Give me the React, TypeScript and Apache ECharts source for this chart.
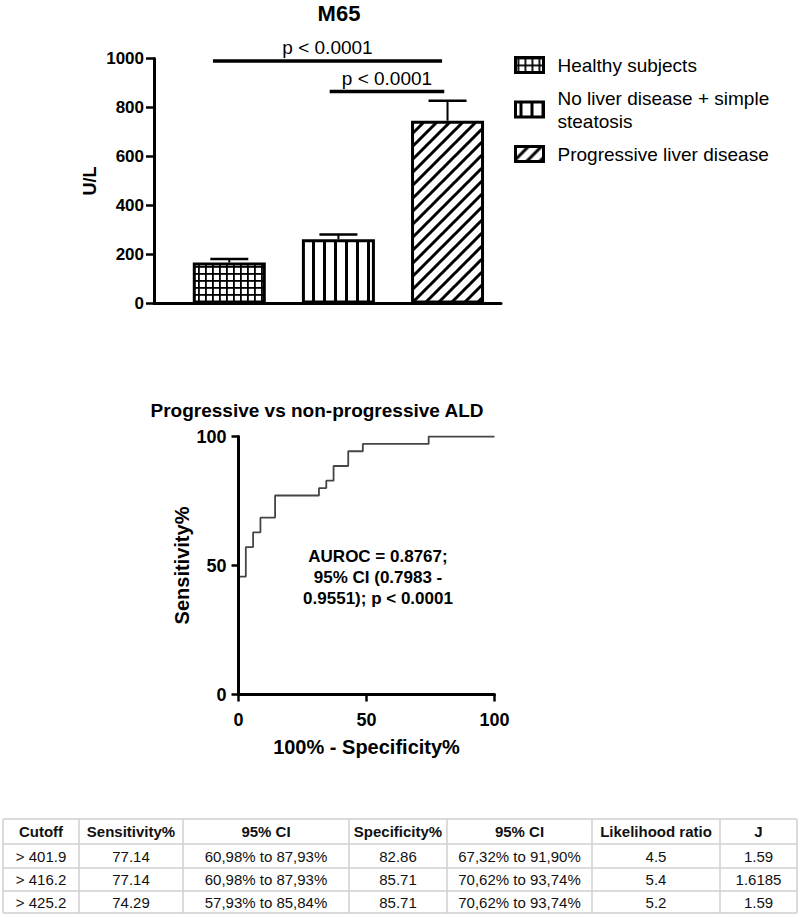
import React, { useEffect, useRef } from 'react';
import * as echarts from 'echarts';

// ---------- Data ----------
const groups = ['Healthy subjects', 'No liver disease + simple steatosis', 'Progressive liver disease'];
const legendLabels = ['Healthy subjects', 'No liver disease + simple\nsteatosis', 'Progressive liver disease'];
const groupMeans = [167, 262, 746];
const groupErrors = [15, 20, 82];
const groupPositions = [0, 1, 2];

const sigStart = [-0.15, 0.92];
const sigEnd = [1.95, 1.97];
const sigLevel = [990, 865];
const sigLabels = ['p < 0.0001', 'p < 0.0001'];

const rocFpr = [0, 0, 2.86, 2.86, 5.71, 5.71, 8.57, 8.57, 14.29, 14.29, 31.43, 31.43, 34.29, 34.29, 37.14, 37.14, 42.86, 42.86, 48.57, 48.57, 74.29, 74.29, 100];
const rocTpr = [0, 45.71, 45.71, 57.14, 57.14, 62.86, 62.86, 68.57, 68.57, 77.14, 77.14, 80, 80, 82.86, 82.86, 88.57, 88.57, 94.29, 94.29, 97.14, 97.14, 100, 100];

const aurocLines = ['AUROC = 0.8767;', '95% CI (0.7983 -', '0.9551); p < 0.0001'];

const tableHeaders = ['Cutoff', 'Sensitivity%', '95% CI', 'Specificity%', '95% CI', 'Likelihood ratio', 'J'];
const cutoffs = ['> 401.9', '> 416.2', '> 425.2'];
const sensitivities = ['77.14', '77.14', '74.29'];
const sensitivityCI = ['60,98% to 87,93%', '60,98% to 87,93%', '57,93% to 85,84%'];
const specificities = ['82.86', '85.71', '85.71'];
const specificityCI = ['67,32% to 91,90%', '70,62% to 93,74%', '70,62% to 93,74%'];
const likelihoodRatios = ['4.5', '5.4', '5.2'];
const youdenJ = ['1.59', '1.6185', '1.59'];

// ---------- Styles ----------
const FONT = "'Liberation Sans', Arial, Helvetica, sans-serif";

const svgUrl = (w: number, h: number, body: string) =>
  'data:image/svg+xml;charset=utf-8,' +
  encodeURIComponent(`<svg xmlns="http://www.w3.org/2000/svg" width="${w}" height="${h}">${body}</svg>`);

const patterns: any[] = [
  {
    image: svgUrl(7, 7, '<rect width="7" height="7" fill="#fff"/><rect x="2" y="0" width="1.8" height="7" fill="#000"/><rect x="0" y="0" width="7" height="1.8" fill="#000"/>'),
    repeat: 'repeat', imageWidth: 7, imageHeight: 7,
  },
  {
    image: svgUrl(11, 4, '<rect width="11" height="4" fill="#fff"/><rect x="4" y="0" width="3" height="4" fill="#000"/>'),
    repeat: 'repeat', imageWidth: 11, imageHeight: 4,
  },
  {
    image: svgUrl(13, 13, '<rect width="13" height="13" fill="#fff"/><path d="M-2,2 L2,-2 M0,13 L13,0 M11,15 L15,11" stroke="#000" stroke-width="3"/>'),
    repeat: 'repeat', imageWidth: 13, imageHeight: 13,
  },
];

const colEdges = [3, 79, 183, 349, 447, 592, 720, 797];
const rowEdges = [819, 844, 868, 891, 913];

function buildTable() {
  const els: any[] = [];
  const top = rowEdges[0];
  const bottom = rowEdges[rowEdges.length - 1];
  const left = colEdges[0];
  const right = colEdges[colEdges.length - 1];
  colEdges.forEach((x) => {
    els.push({ type: 'line', shape: { x1: x, y1: top, x2: x, y2: bottom }, style: { stroke: '#cfcfcf', lineWidth: 1.5 } });
  });
  rowEdges.forEach((y) => {
    els.push({ type: 'line', shape: { x1: left, y1: y, x2: right, y2: y }, style: { stroke: '#cfcfcf', lineWidth: 1.5 } });
  });
  const columns = [cutoffs, sensitivities, sensitivityCI, specificities, specificityCI, likelihoodRatios, youdenJ];
  tableHeaders.forEach((h, c) => {
    els.push({
      type: 'text',
      x: (colEdges[c] + colEdges[c + 1]) / 2,
      y: (rowEdges[0] + rowEdges[1]) / 2,
      style: { text: h, fontSize: 15, fontWeight: 'bold', fontFamily: FONT, fill: '#111', align: 'center', verticalAlign: 'middle' },
    });
  });
  columns.forEach((col, c) => {
    col.forEach((v, r) => {
      els.push({
        type: 'text',
        x: (colEdges[c] + colEdges[c + 1]) / 2,
        y: (rowEdges[r + 1] + rowEdges[r + 2]) / 2,
        style: { text: v, fontSize: 15, fontFamily: FONT, fill: '#111', align: 'center', verticalAlign: 'middle' },
      });
    });
  });
  return els;
}

function buildOption(): any {
  const axisFont = { fontFamily: FONT, fontWeight: 'bold', color: '#000' };
  const plain = (v: number) => String(v);
  const barSeries = groups.map((g, i) => ({
    name: g,
    type: 'bar',
    xAxisIndex: 0,
    yAxisIndex: 0,
    barWidth: 73,
    barGap: '-100%',
    data: [[groupPositions[i], groupMeans[i]]],
    itemStyle: { color: patterns[i], borderColor: '#000', borderWidth: 3 },
    emphasis: { disabled: true },
    z: 2,
  }));

  return {
    animation: false,
    backgroundColor: '#fff',
    textStyle: { fontFamily: FONT },
    grid: [
      { left: 154, top: 58.5, width: 347, height: 245 },
      { left: 238.5, top: 436.5, width: 256, height: 258 },
    ],
    legend: {
      orient: 'vertical',
      left: 514,
      top: 53.5,
      padding: 0,
      itemGap: 10,
      itemWidth: 28,
      itemHeight: 15,
      selectedMode: false,
      data: groups.map((g, i) => ({
        name: g,
        icon: 'rect',
        itemStyle: { color: patterns[i], borderColor: '#000', borderWidth: 3 },
      })),
      formatter: (name: string) => legendLabels[groups.indexOf(name)],
      textStyle: { fontSize: 19, lineHeight: 23, color: '#000', fontFamily: FONT, padding: [0, 0, 0, 9] },
    },
    xAxis: [
      {
        gridIndex: 0,
        type: 'value',
        min: -0.69,
        max: 2.49,
        z: 5,
        axisLine: { show: true, onZero: false, lineStyle: { color: '#000', width: 3 } },
        axisTick: { show: false },
        axisLabel: { show: false },
        splitLine: { show: false },
      },
      {
        gridIndex: 1,
        type: 'value',
        min: 0,
        max: 100,
        interval: 50,
        z: 5,
        name: '100% - Specificity%',
        nameLocation: 'middle',
        nameGap: 42,
        nameTextStyle: { ...axisFont, fontSize: 20 },
        axisLine: { show: true, onZero: false, lineStyle: { color: '#000', width: 3 } },
        axisTick: { show: true, length: 7, lineStyle: { color: '#000', width: 2.5 } },
        axisLabel: { ...axisFont, fontSize: 18, margin: 16, formatter: plain },
        splitLine: { show: false },
      },
    ],
    yAxis: [
      {
        gridIndex: 0,
        type: 'value',
        min: 0,
        max: 1000,
        interval: 200,
        z: 5,
        name: 'U/L',
        nameLocation: 'middle',
        nameRotate: 90,
        nameGap: 55,
        nameTextStyle: { ...axisFont, fontSize: 18 },
        axisLine: { show: true, onZero: false, lineStyle: { color: '#000', width: 3 } },
        axisTick: { show: true, length: 8, lineStyle: { color: '#000', width: 2.5 } },
        axisLabel: { ...axisFont, fontSize: 17, margin: 10, formatter: plain },
        splitLine: { show: false },
      },
      {
        gridIndex: 1,
        type: 'value',
        min: 0,
        max: 100,
        interval: 50,
        z: 5,
        name: 'Sensitivity%',
        nameLocation: 'middle',
        nameRotate: 90,
        nameGap: 47,
        nameTextStyle: { ...axisFont, fontSize: 20 },
        axisLine: { show: true, onZero: false, lineStyle: { color: '#000', width: 3 } },
        axisTick: { show: true, length: 7, lineStyle: { color: '#000', width: 2.5 } },
        axisLabel: { ...axisFont, fontSize: 18, margin: 12, formatter: plain },
        splitLine: { show: false },
      },
    ],
    series: [
      ...barSeries,
      {
        type: 'custom',
        name: 'error',
        xAxisIndex: 0,
        yAxisIndex: 0,
        data: groups.map((g, i) => [groupPositions[i], groupMeans[i], groupErrors[i]]),
        encode: { x: 0, y: 1 },
        z: 3,
        silent: true,
        renderItem: (params: any, api: any) => {
          const x = api.value(0);
          const y = api.value(1);
          const e = api.value(2);
          const base = api.coord([x, y]);
          const top = api.coord([x, y + e]);
          return {
            type: 'group',
            children: [
              { type: 'line', shape: { x1: base[0], y1: base[1], x2: top[0], y2: top[1] }, style: { stroke: '#000', lineWidth: 2 } },
              { type: 'line', shape: { x1: top[0] - 19, y1: top[1], x2: top[0] + 19, y2: top[1] }, style: { stroke: '#000', lineWidth: 2.5 } },
            ],
          };
        },
      },
      {
        type: 'custom',
        name: 'significance',
        xAxisIndex: 0,
        yAxisIndex: 0,
        data: sigStart.map((s, i) => [s, sigEnd[i], sigLevel[i]]),
        encode: { x: [0, 1], y: 2 },
        z: 3,
        silent: true,
        renderItem: (params: any, api: any) => {
          const p1 = api.coord([api.value(0), api.value(2)]);
          const p2 = api.coord([api.value(1), api.value(2)]);
          return {
            type: 'group',
            children: [
              { type: 'line', shape: { x1: p1[0], y1: p1[1], x2: p2[0], y2: p2[1] }, style: { stroke: '#000', lineWidth: 3.5 } },
              {
                type: 'text',
                x: (p1[0] + p2[0]) / 2,
                y: p1[1] - 13.5,
                style: {
                  text: sigLabels[params.dataIndex],
                  fontSize: 19,
                  fontFamily: FONT,
                  fill: '#000',
                  align: 'center',
                  verticalAlign: 'middle',
                },
              },
            ],
          };
        },
      },
      {
        type: 'line',
        name: 'ROC',
        xAxisIndex: 1,
        yAxisIndex: 1,
        data: rocFpr.map((x, i) => [x, rocTpr[i]]),
        symbol: 'none',
        lineStyle: { color: '#454545', width: 1.8 },
        silent: true,
        z: 1,
      },
    ],
    graphic: [
      {
        type: 'text',
        x: 339,
        y: 13,
        style: { text: 'M65', fontSize: 22, fontWeight: 'bold', fontFamily: FONT, fill: '#000', align: 'center', verticalAlign: 'middle' },
      },
      {
        type: 'text',
        x: 317,
        y: 410,
        style: { text: 'Progressive vs non-progressive ALD', fontSize: 19, fontWeight: 'bold', fontFamily: FONT, fill: '#000', align: 'center', verticalAlign: 'middle' },
      },
      {
        type: 'text',
        x: 378,
        y: 577.5,
        style: {
          text: aurocLines.join('\n'),
          fontSize: 17,
          lineHeight: 21,
          fontWeight: 'bold',
          fontFamily: FONT,
          fill: '#000',
          align: 'center',
          verticalAlign: 'middle',
        },
      },
      ...buildTable(),
    ],
  };
}

export default function App() {
  const ref = useRef<HTMLDivElement>(null);
  useEffect(() => {
    if (!ref.current) return;
    const chart = echarts.init(ref.current, null, { renderer: 'svg' });
    chart.setOption(buildOption());
    return () => chart.dispose();
  }, []);
  return (
    <div
      ref={ref}
      style={{ position: 'absolute', left: 0, top: 0, width: 800, height: 917, background: '#fff' }}
    />
  );
}
